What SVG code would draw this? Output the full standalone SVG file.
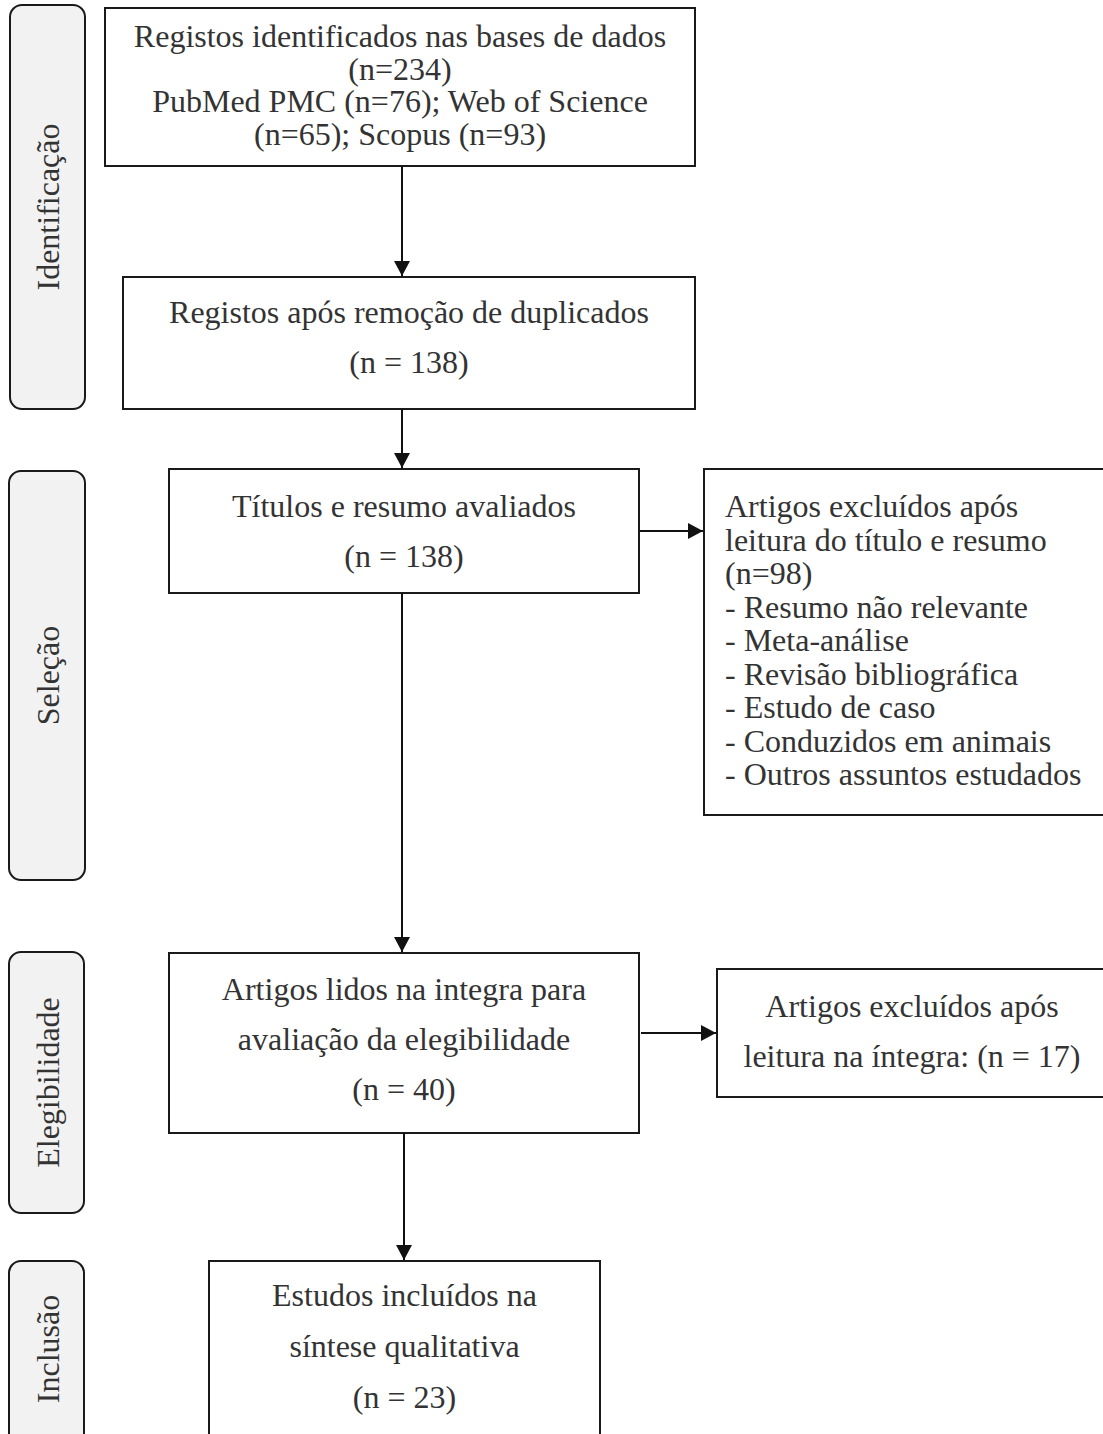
<svg xmlns="http://www.w3.org/2000/svg" width="1103" height="1434" viewBox="0 0 1103 1434">
<style>
.side{fill:#f2f2f2;stroke:#1a1a1a;stroke-width:2}
.box{fill:#ffffff;stroke:#1a1a1a;stroke-width:2}
text{font-family:"Liberation Serif","Times New Roman",serif;font-size:32px;fill:#333333}
.c{text-anchor:middle}
.conn{fill:none;stroke:#111111;stroke-width:2}
</style>
<defs>
<marker id="arr" markerUnits="userSpaceOnUse" markerWidth="16" markerHeight="16" refX="15" refY="8" orient="auto">
<path d="M0,0 L15,8 L0,16 Z" fill="#111111"/>
</marker>
</defs>
<rect width="1103" height="1434" fill="#ffffff"/>

<g id="stage-identificacao">
<rect class="side" x="10" y="5" width="75" height="404" rx="12"/>
<text class="c" transform="translate(59,207) rotate(-90)">Identificação</text>
</g>
<g id="stage-selecao">
<rect class="side" x="9" y="471" width="76" height="409" rx="12"/>
<text class="c" transform="translate(59,675.5) rotate(-90)">Seleção</text>
</g>
<g id="stage-elegibilidade">
<rect class="side" x="9" y="952" width="75" height="261" rx="12"/>
<text class="c" transform="translate(59,1082.5) rotate(-90)">Elegibilidade</text>
</g>
<g id="stage-inclusao">
<rect class="side" x="9" y="1261" width="75" height="186" rx="12"/>
<text class="c" transform="translate(59,1349) rotate(-90)">Inclusão</text>
</g>

<g id="n1">
<rect class="box" x="105" y="8" width="590" height="158"/>
<text class="c" x="400" y="47">Registos identificados nas bases de dados</text>
<text class="c" x="400" y="79.5">(n=234)</text>
<text class="c" x="400" y="112">PubMed PMC (n=76); Web of Science</text>
<text class="c" x="400" y="145">(n=65); Scopus (n=93)</text>
</g>
<g id="n2">
<rect class="box" x="123" y="277" width="572" height="132"/>
<text class="c" x="409" y="323">Registos após remoção de duplicados</text>
<text class="c" x="409" y="373">(n = 138)</text>
</g>
<g id="n3">
<rect class="box" x="169" y="469" width="470" height="124"/>
<text class="c" x="404" y="517">Títulos e resumo avaliados</text>
<text class="c" x="404" y="567">(n = 138)</text>
</g>
<g id="e1">
<rect class="box" x="704" y="469" width="402" height="346"/>
<text x="725" y="517">Artigos excluídos após</text>
<text x="725" y="551">leitura do título e resumo</text>
<text x="725" y="584">(n=98)</text>
<text x="725" y="618">- Resumo não relevante</text>
<text x="725" y="651">- Meta-análise</text>
<text x="725" y="685">- Revisão bibliográfica</text>
<text x="725" y="718">- Estudo de caso</text>
<text x="725" y="752">- Conduzidos em animais</text>
<text x="725" y="785">- Outros assuntos estudados</text>
</g>
<g id="n4">
<rect class="box" x="169" y="953" width="470" height="180"/>
<text class="c" x="404" y="1000">Artigos lidos na integra para</text>
<text class="c" x="404" y="1050">avaliação da elegibilidade</text>
<text class="c" x="404" y="1100">(n = 40)</text>
</g>
<g id="e2">
<rect class="box" x="717" y="969" width="389" height="128"/>
<text class="c" x="912" y="1017">Artigos excluídos após</text>
<text class="c" x="912" y="1067">leitura na íntegra: (n = 17)</text>
</g>
<g id="n5">
<rect class="box" x="209" y="1261" width="391" height="186"/>
<text class="c" x="404.5" y="1306">Estudos incluídos na</text>
<text class="c" x="404.5" y="1357">síntese qualitativa</text>
<text class="c" x="404.5" y="1408">(n = 23)</text>
</g>

<g id="connectors">
<path class="conn" d="M402,166 V276" marker-end="url(#arr)"/>
<path class="conn" d="M402,409 V468" marker-end="url(#arr)"/>
<path class="conn" d="M640,531 H703" marker-end="url(#arr)"/>
<path class="conn" d="M402,593 V952" marker-end="url(#arr)"/>
<path class="conn" d="M641,1033 H716" marker-end="url(#arr)"/>
<path class="conn" d="M404,1133 V1260" marker-end="url(#arr)"/>
</g>
</svg>
